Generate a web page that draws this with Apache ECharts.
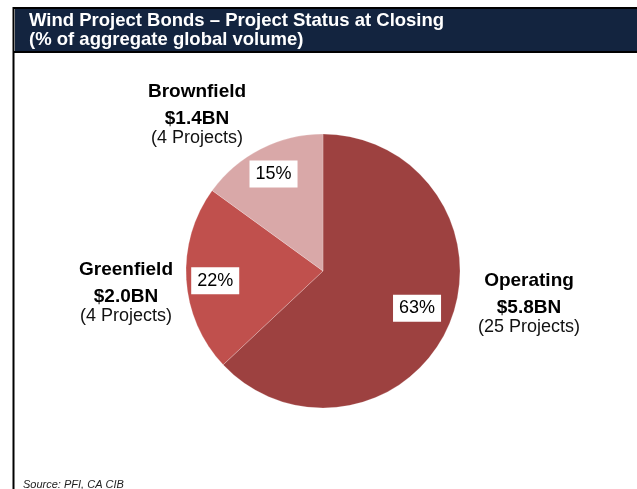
<!DOCTYPE html>
<html>
<head>
<meta charset="utf-8">
<script src="https://cdn.jsdelivr.net/npm/echarts@6/dist/echarts.min.js"></script>
<style>
  html, body { margin: 0; padding: 0; background: #fff; }
  #chart { width: 637px; height: 489px; }
</style>
</head>
<body>
<div id="chart"></div>
<script>
// Project status at financial close, share of aggregate global volume
const categories = ['Operating', 'Greenfield', 'Brownfield'];
const shares = [63, 22, 15];           // % of volume
const volumesBn = [5.8, 2.0, 1.4];     // USD billions
const projectCounts = [25, 4, 4];

const colors = ['#9D4140', '#C0504D', '#D9A8A8'];
const FONT = '"Liberation Sans", Arial, Helvetica, sans-serif';

// where each category caption sits (centre x, centre y of the block)
const captionPos = [
  { x: 529, y: 301 },
  { x: 126, y: 290 },
  { x: 197, y: 112 }
];
// small nudges for the percentage tags
const tagOffsets = [[-6, -6], [1, 3], [0, 0]];

const sliceData = categories.map((name, i) => ({
  name: name,
  value: shares[i],
  itemStyle: { color: colors[i] }
}));

const chart = echarts.init(document.getElementById('chart'), null, { renderer: 'canvas' });

chart.setOption({
  animation: false,
  backgroundColor: '#ffffff',
  graphic: [
    // header band with frame
    { type: 'rect', shape: { x: 13, y: 7, width: 624, height: 2 }, style: { fill: '#000' } },
    { type: 'rect', shape: { x: 15, y: 9, width: 622, height: 42 }, style: { fill: '#13243F' } },
    { type: 'rect', shape: { x: 13, y: 51, width: 624, height: 2 }, style: { fill: '#000' } },
    { type: 'rect', shape: { x: 12.5, y: 7, width: 2, height: 482 }, style: { fill: '#000' } },
    {
      type: 'text', left: 29, top: 11,
      style: {
        text: 'Wind Project Bonds \u2013 Project Status at Closing\n(% of aggregate global volume)',
        fill: '#ffffff', font: 'bold 18.5px ' + FONT, lineHeight: 19.5
      }
    },
    {
      type: 'text', left: 23, top: 479,
      style: { text: 'Source: PFI, CA CIB', fill: '#222', font: 'italic 11px ' + FONT }
    }
  ],
  series: [
    {
      type: 'pie',
      center: [323, 271],
      radius: [0, 137],
      startAngle: 90,
      clockwise: true,
      silent: true,
      itemStyle: { borderColor: 'rgba(255,255,255,0.35)', borderWidth: 0.6 },
      data: sliceData,
      labelLine: { show: false },
      label: {
        show: true,
        position: 'outside',
        formatter: p => {
          const i = p.dataIndex;
          return '{a|' + categories[i] + '}\n{b|$' + volumesBn[i].toFixed(1) + 'BN}\n{c|(' + projectCounts[i] + ' Projects)}';
        },
        align: 'center',
        rich: {
          a: { fontFamily: FONT, fontWeight: 'bold', fontSize: 19, lineHeight: 31, color: '#000', align: 'center' },
          b: { fontFamily: FONT, fontWeight: 'bold', fontSize: 19, lineHeight: 22, color: '#000', align: 'center' },
          c: { fontFamily: FONT, fontSize: 18, lineHeight: 18, color: '#111', align: 'center' }
        }
      },
      labelLayout: p => ({
        x: captionPos[p.dataIndex].x,
        y: captionPos[p.dataIndex].y,
        align: 'center',
        verticalAlign: 'middle',
        hideOverlap: false,
        moveOverlap: null
      })
    },
    {
      // percentage tags placed along each slice's mid-angle
      type: 'pie',
      center: [323, 271],
      radius: [0, 212],
      startAngle: 90,
      clockwise: true,
      silent: true,
      z: 5,
      itemStyle: { color: 'rgba(0,0,0,0)' },
      data: categories.map((name, i) => ({
        name: name,
        value: shares[i],
        label: { offset: tagOffsets[i] }
      })),
      labelLine: { show: false },
      label: {
        show: true,
        position: 'inside',
        formatter: p => shares[p.dataIndex] + '%',
        fontFamily: FONT,
        fontSize: 18,
        lineHeight: 18,
        color: '#000',
        backgroundColor: '#ffffff',
        padding: [4.5, 6]
      }
    }
  ]
});
</script>
</body>
</html>
